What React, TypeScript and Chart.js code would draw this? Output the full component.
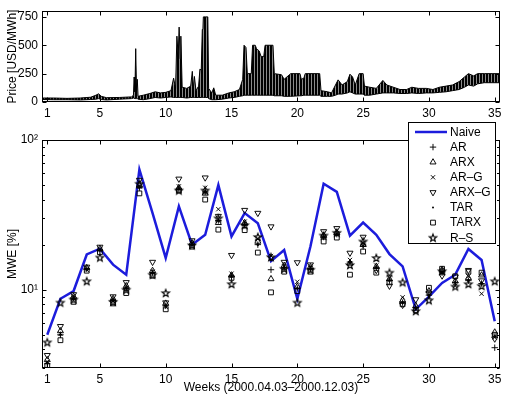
import React, { useEffect, useRef } from 'react';
import { Chart, registerables } from 'chart.js';
Chart.register(...registerables);

const FONT = "'Liberation Sans', Arial, Helvetica, sans-serif";
const BLUE = '#1c1cdc';
const FS = 12;

// ---- tick labels ----
const weekTicks = [1, 5, 10, 15, 20, 25, 30, 35];
const priceTicks = [0, 250, 500, 750];
const mweMajorTicks = [10, 100];
const mweMinorTicks = [3, 4, 5, 6, 7, 8, 9, 20, 30, 40, 50, 60, 70, 80, 90];

// ---- top panel: price envelope (week, daily low, daily high) ----
const priceWeeks = [0.6, 1.5, 2.5, 3.5, 4.3, 4.7, 4.9, 5.1, 5.5, 6.5, 7.4, 7.55, 7.6, 7.66, 7.72, 7.78, 7.84, 7.9, 8.3, 8.8, 9.2, 9.6, 10.0, 10.4, 10.6, 10.75, 10.85, 10.95, 11.02, 11.1, 11.15, 11.25, 11.6, 11.9, 12.02, 12.1, 12.18, 12.3, 12.5, 12.6, 12.7, 12.78, 12.83, 12.86, 13.0, 13.2, 13.26, 13.5, 13.65, 13.8, 14.3, 14.8, 15.2, 15.6, 15.85, 15.95, 16.1, 16.2, 16.5, 16.6, 16.8, 16.9, 17.0, 17.1, 17.25, 17.45, 17.55, 18.15, 18.25, 18.8, 19.0, 19.5, 20.2, 20.3, 20.5, 20.6, 21.7, 21.8, 22.3, 22.6, 22.9, 23.1, 23.4, 23.8, 24.0, 24.2, 24.4, 24.7, 25.0, 25.1, 25.5, 26.0, 26.5, 26.8, 27.3, 27.8, 28.3, 28.7, 29.2, 29.8, 30.3, 30.8, 31.3, 31.8, 32.3, 32.7, 33.0, 33.4, 33.7, 34.2, 34.8, 35.4];
const priceLow = [22, 20, 20, 18, 22, 25, 30, 22, 18, 25, 30, 35, 35, 30, 30, 30, 30, 25, 20, 30, 40, 35, 40, 45, 40, 40, 40, 40, 40, 40, 40, 40, 35, 40, 40, 40, 40, 40, 40, 40, 40, 40, 40, 40, 40, 40, 30, 20, 20, 20, 25, 35, 40, 50, 55, 60, 60, 60, 60, 60, 60, 60, 60, 60, 60, 60, 60, 60, 55, 55, 50, 50, 55, 55, 60, 60, 60, 50, 50, 50, 60, 70, 70, 80, 90, 80, 70, 70, 70, 60, 60, 70, 80, 80, 80, 75, 75, 80, 75, 80, 80, 85, 90, 100, 110, 130, 150, 140, 160, 170, 170, 170];
const priceHigh = [35, 35, 32, 35, 42, 60, 72, 50, 38, 40, 45, 60, 220, 90, 470, 120, 200, 50, 60, 75, 90, 80, 85, 100, 210, 120, 580, 400, 660, 380, 580, 130, 120, 140, 270, 120, 225, 100, 140, 290, 280, 640, 650, 750, 750, 750, 120, 80, 125, 60, 60, 80, 90, 110, 200, 500, 480, 250, 250, 500, 500, 470, 460, 450, 400, 400, 500, 500, 250, 240, 200, 250, 250, 200, 210, 250, 250, 100, 90, 80, 150, 195, 150, 180, 245, 220, 150, 250, 250, 140, 130, 120, 190, 150, 130, 110, 110, 130, 120, 120, 110, 130, 140, 150, 180, 220, 250, 230, 250, 250, 250, 250];

// ---- bottom panel: weekly MWE [%] ----
const weeks = [1, 2, 3, 4, 5, 6, 7, 8, 9, 10, 11, 12, 13, 14, 15, 16, 17, 18, 19, 20, 21, 22, 23, 24, 25, 26, 27, 28, 29, 30, 31, 32, 33, 34, 35];
const naive = [5.0, 8.7, 9.8, 17.2, 18.8, 14.7, 12.6, 63.5, 32.5, 16.3, 36, 20, 23.3, 50, 22.7, 32.5, 27.8, 15.5, 18.4, 8.7, 19.5, 51, 45, 23, 28.1, 23.3, 17.3, 14.3, 7.4, 9.0, 11.1, 12.6, 18.7, 15.8, 6.15];
const ar = [3.2, 5.0, 8.8, 13.8, 18.3, 8.5, 10.2, 48, 13.0, 7.8, 47, 20, 45, 29, 12.2, 27, 20, 13.6, 14, 10.2, 13.8, 22.5, 23.5, 15.3, 19.5, 14, 11.5, 8.2, 7.6, 9.2, 13, 11.2, 11.5, 11, 4.1];
const arx = [3.4, 5.3, 9.0, 14.0, 18.8, 8.7, 10.6, 50, 13.4, 8.1, 48, 20.5, 44, 28, 12.5, 28, 21, 11.8, 14.5, 10.5, 14.2, 23, 24, 15.0, 20, 14.3, 11.8, 8.5, 7.8, 9.8, 13.6, 11.4, 12.0, 12.5, 5.2];
const arg = [3.3, 5.1, 8.8, 13.6, 18.5, 8.4, 10.3, 49, 13.2, 7.7, 49, 20.3, 48, 34.5, 12.8, 28.5, 22, 16.8, 14.3, 11.3, 14.0, 22.8, 23.8, 15.8, 20.5, 14.5, 12, 8.9, 7.4, 9.0, 13.2, 10.6, 12.3, 9.4, 4.8];
const arxg = [3.65, 5.7, 9.3, 14.2, 19.3, 9.0, 11.2, 54, 15.3, 8.2, 55, 21.3, 56, 31, 17.0, 34, 32.5, 26.4, 15.3, 15.2, 14.7, 24.5, 25.7, 17.6, 22.5, 13.5, 10.6, 7.9, 8.6, 9.5, 12.4, 12.2, 13.5, 11.5, 4.7];
const tar = [3.25, 5.0, 8.7, 13.7, 18.3, 8.5, 10.2, 48, 13.0, 7.8, 47, 20, 45, 29, 12.2, 27, 20, 15.8, 14, 10.2, 13.8, 22.5, 23.5, 15.3, 19.5, 14, 11.5, 8.2, 7.6, 9.2, 13, 11.2, 11.5, 11, 4.9];
const tarx = [3.1, 4.6, 8.3, 13.4, 17.8, 8.1, 9.5, 44, 12.4, 7.4, 46, 19.4, 40, 25.2, 12.0, 25, 17.7, 9.6, 13.2, 9.8, 13.2, 21, 22.3, 12.6, 18, 13, 11.2, 8.0, 7.3, 10.3, 13.8, 12.3, 13.2, 13.0, 5.0];
const rs = [4.45, 8.2, 8.6, 11.4, 16.4, 8.3, 10.0, 51, 12.6, 9.5, 46, 19.8, 46, 30, 10.9, 27, 22.5, 16.5, 13.8, 8.2, 13.6, 23, 24, 14.6, 21, 16.3, 13, 11.2, 7.2, 8.5, 13.3, 10.5, 10.9, 10.6, 11.4];

const legendLabels = ['Naive', 'AR', 'ARX', 'AR\u2013G', 'ARX\u2013G', 'TAR', 'TARX', 'R\u2013S'];

function makeStar(r: number): HTMLCanvasElement {
  const s = 12;
  const c = document.createElement('canvas');
  c.width = s; c.height = s;
  const g = c.getContext('2d')!;
  g.strokeStyle = '#000';
  g.lineWidth = 1.15;
  g.beginPath();
  for (let i = 0; i < 10; i++) {
    const ang = -Math.PI / 2 + (i * Math.PI) / 5;
    const rr = i % 2 === 0 ? r : r * 0.42;
    const px = s / 2 + rr * Math.cos(ang);
    const py = s / 2 + 0.3 + rr * Math.sin(ang);
    if (i === 0) g.moveTo(px, py); else g.lineTo(px, py);
  }
  g.closePath();
  g.stroke();
  return c;
}

function drawPointShape(ctx: CanvasRenderingContext2D, style: any, r: number, rotDeg: number, x: number, y: number) {
  if (typeof style !== 'string') {
    ctx.drawImage(style, x - style.width / 2, y - style.height / 2);
    return;
  }
  const rad = (rotDeg * Math.PI) / 180;
  ctx.beginPath();
  if (style === 'cross') {
    ctx.moveTo(x - r, y); ctx.lineTo(x + r, y);
    ctx.moveTo(x, y - r); ctx.lineTo(x, y + r);
    ctx.stroke();
  } else if (style === 'crossRot') {
    const d = r * Math.SQRT1_2;
    ctx.moveTo(x - d, y - d); ctx.lineTo(x + d, y + d);
    ctx.moveTo(x + d, y - d); ctx.lineTo(x - d, y + d);
    ctx.stroke();
  } else if (style === 'triangle') {
    let a = rad;
    ctx.moveTo(x + Math.sin(a) * r, y - Math.cos(a) * r);
    a += (2 * Math.PI) / 3;
    ctx.lineTo(x + Math.sin(a) * r, y - Math.cos(a) * r);
    a += (2 * Math.PI) / 3;
    ctx.lineTo(x + Math.sin(a) * r, y - Math.cos(a) * r);
    ctx.closePath();
    ctx.stroke();
  } else if (style === 'rect') {
    const s = r * Math.SQRT1_2;
    ctx.rect(x - s, y - s, 2 * s, 2 * s);
    ctx.stroke();
  } else if (style === 'circle') {
    ctx.arc(x, y, r, 0, Math.PI * 2);
    ctx.fillStyle = '#000';
    ctx.fill();
  }
}

function drawFrame(chart: any, yMajor: number[], yMinor: number[]) {
  const { ctx, chartArea: a, scales } = chart;
  const xs = scales.x, ys = scales.y;
  const L = Math.round(a.left) + 0.5, R = Math.round(a.right) - 0.5;
  const T = Math.round(a.top) + 0.5, B = Math.round(a.bottom) - 0.5;
  ctx.save();
  ctx.strokeStyle = '#000';
  ctx.lineWidth = 1;
  ctx.strokeRect(L, T, R - L, B - T);
  ctx.beginPath();
  for (const v of weekTicks) {
    const px = Math.round(xs.getPixelForValue(v)) + 0.5;
    ctx.moveTo(px, B); ctx.lineTo(px, B - 4);
    ctx.moveTo(px, T); ctx.lineTo(px, T + 4);
  }
  for (const v of yMajor) {
    const py = Math.round(ys.getPixelForValue(v)) + 0.5;
    ctx.moveTo(L, py); ctx.lineTo(L + 4, py);
    ctx.moveTo(R, py); ctx.lineTo(R - 4, py);
  }
  for (const v of yMinor) {
    const py = Math.round(ys.getPixelForValue(v)) + 0.5;
    ctx.moveTo(L, py); ctx.lineTo(L + 2.5, py);
    ctx.moveTo(R, py); ctx.lineTo(R - 2.5, py);
  }
  ctx.stroke();
  ctx.restore();
}

export default function App() {
  const topRef = useRef<HTMLCanvasElement>(null);
  const botRef = useRef<HTMLCanvasElement>(null);

  useEffect(() => {
    Chart.defaults.font.family = FONT;
    Chart.defaults.font.size = FS;
    Chart.defaults.color = '#000';
    const star = makeStar(3.9);

    // striped fill so the daily oscillation texture shows
    const tile = document.createElement('canvas');
    tile.width = 3; tile.height = 1;
    const tg = tile.getContext('2d')!;
    tg.fillStyle = '#000'; tg.fillRect(0, 0, 2, 1);
    tg.fillStyle = '#8a8a8a'; tg.fillRect(2, 0, 1, 1);
    const stripes = topRef.current!.getContext('2d')!.createPattern(tile, 'repeat');

    const xScale = (height: number, title?: string) => ({
      type: 'linear' as const,
      min: 0.6,
      max: 35.4,
      grid: { display: false, drawTicks: false },
      border: { display: false },
      ticks: { autoSkip: false, maxRotation: 0, padding: 4, font: { size: FS } },
      afterBuildTicks: (s: any) => { s.ticks = weekTicks.map((v) => ({ value: v })); },
      afterFit: (s: any) => { s.height = height; },
      title: title
        ? { display: true, text: title, font: { size: FS }, padding: { top: 0, bottom: 6 } }
        : { display: false },
    });

    const topChart = new Chart(topRef.current!, {
      type: 'line',
      data: {
        datasets: [
          {
            data: priceWeeks.map((w, i) => ({ x: w, y: priceLow[i] })),
            borderColor: '#000', borderWidth: 1, pointRadius: 0, fill: false, tension: 0,
          },
          {
            data: priceWeeks.map((w, i) => ({ x: w, y: priceHigh[i] })),
            borderColor: '#000', borderWidth: 1, pointRadius: 0, tension: 0,
            fill: '-1', backgroundColor: stripes,
          },
        ],
      },
      options: {
        responsive: false,
        animation: false,
        devicePixelRatio: 1,
        layout: { autoPadding: false, padding: { top: 6, right: 6, left: 0, bottom: 0 } },
        plugins: { legend: { display: false }, tooltip: { enabled: false } },
        scales: {
          x: xScale(18),
          y: {
            type: 'linear', min: 0, max: 800,
            grid: { display: false, drawTicks: false },
            border: { display: false },
            ticks: { padding: 4, autoSkip: false, font: { size: FS } },
            afterBuildTicks: (s: any) => { s.ticks = priceTicks.map((v) => ({ value: v })); },
            afterFit: (s: any) => { s.width = 42; },
            title: { display: true, text: 'Price [USD/MWh]', font: { size: FS }, padding: { top: 5, bottom: 0 } },
          },
        },
      },
      plugins: [{ id: 'frameTop', afterDraw: (c: any) => drawFrame(c, priceTicks, []) }],
    } as any);

    const markerSet = (label: string, values: number[], extra: any) => ({
      label,
      data: weeks.map((w, i) => ({ x: w, y: values[i] })),
      showLine: false,
      borderColor: '#000',
      backgroundColor: 'rgba(0,0,0,0)',
      pointBorderColor: '#000',
      pointBackgroundColor: 'rgba(0,0,0,0)',
      pointBorderWidth: 0.95,
      order: 0,
      ...extra,
    });

    const styles = [
      { pointStyle: 'cross', pointRadius: 3.2 },
      { pointStyle: 'triangle', pointRadius: 3.5 },
      { pointStyle: 'crossRot', pointRadius: 3 },
      { pointStyle: 'triangle', pointRadius: 3.5, pointRotation: 180 },
      { pointStyle: 'circle', pointRadius: 1, pointBackgroundColor: '#000' },
      { pointStyle: 'rect', pointRadius: 3.4 },
      { pointStyle: star, pointRadius: 4 },
    ];

    const legendPlugin = {
      id: 'mweLegend',
      afterDraw: (c: any) => {
        const { ctx } = c;
        const top = c.chartArea.top;
        const bx = 408.5, by = top - 17.5, bw = 87, bh = 121;
        ctx.save();
        ctx.fillStyle = '#fff';
        ctx.fillRect(bx, by, bw, bh);
        ctx.strokeStyle = '#000';
        ctx.lineWidth = 1;
        ctx.strokeRect(bx, by, bw, bh);
        ctx.font = `${FS}px ${FONT}`;
        ctx.textBaseline = 'middle';
        ctx.textAlign = 'left';
        const mx = 433;
        for (let i = 0; i < legendLabels.length; i++) {
          const y = by + 9.5 + i * 15.1;
          if (i === 0) {
            ctx.strokeStyle = BLUE;
            ctx.lineWidth = 2.5;
            ctx.beginPath(); ctx.moveTo(415, y); ctx.lineTo(447, y); ctx.stroke();
          } else {
            const st: any = styles[i - 1];
            ctx.strokeStyle = '#000';
            ctx.lineWidth = 0.95;
            drawPointShape(ctx, st.pointStyle, st.pointRadius, st.pointRotation || 0, mx, y);
          }
          ctx.fillStyle = '#000';
          ctx.fillText(legendLabels[i], 450, y + 0.5);
        }
        ctx.restore();
      },
    };

    const botChart = new Chart(botRef.current!, {
      type: 'line',
      data: {
        datasets: [
          markerSet('AR', ar, styles[0]),
          markerSet('ARX', arx, styles[1]),
          markerSet('AR-G', arg, styles[2]),
          markerSet('ARX-G', arxg, styles[3]),
          markerSet('TAR', tar, styles[4]),
          markerSet('TARX', tarx, styles[5]),
          markerSet('R-S', rs, styles[6]),
          {
            label: 'Naive',
            data: weeks.map((w, i) => ({ x: w, y: naive[i] })),
            borderColor: BLUE, borderWidth: 2.5, pointRadius: 0, tension: 0, fill: false, order: 1,
          },
        ],
      },
      options: {
        responsive: false,
        animation: false,
        devicePixelRatio: 1,
        layout: { autoPadding: false, padding: { top: 22, right: 6, left: 0, bottom: 0 } },
        plugins: { legend: { display: false }, tooltip: { enabled: false } },
        scales: {
          x: xScale(33, 'Weeks (2000.04.03\u20132000.12.03)'),
          y: {
            type: 'logarithmic', min: 3, max: 100,
            grid: { display: false, drawTicks: false },
            border: { display: false },
            ticks: {
              padding: 4, autoSkip: false, font: { size: FS },
              callback: (v: any) => (v === 10 ? '10\u00b9' : v === 100 ? '10\u00b2' : ''),
            },
            afterBuildTicks: (s: any) => {
              s.ticks = [...mweMinorTicks, ...mweMajorTicks].sort((a, b) => a - b).map((v) => ({ value: v }));
            },
            afterFit: (s: any) => { s.width = 42; },
            title: { display: true, text: 'MWE [%]', font: { size: FS }, padding: { top: 5, bottom: 0 } },
          },
        },
      },
      plugins: [
        { id: 'frameBot', afterDraw: (c: any) => drawFrame(c, mweMajorTicks, mweMinorTicks) },
        legendPlugin,
      ],
    } as any);

    return () => {
      topChart.destroy();
      botChart.destroy();
    };
  }, []);

  return (
    <div style={{ position: 'absolute', left: 0, top: 0, width: 506, height: 401, background: '#fff' }}>
      <canvas ref={topRef} width={506} height={120}
        style={{ position: 'absolute', left: 0, top: 0, width: 506, height: 120 }} />
      <canvas ref={botRef} width={506} height={283}
        style={{ position: 'absolute', left: 0, top: 118, width: 506, height: 283 }} />
    </div>
  );
}
